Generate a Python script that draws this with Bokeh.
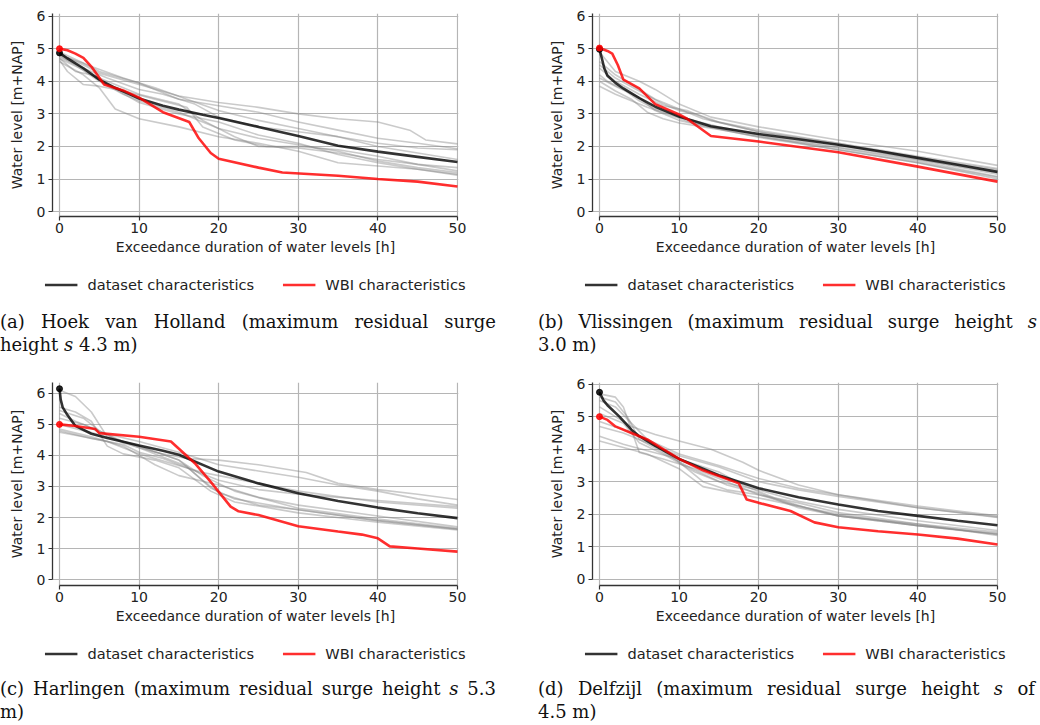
from bokeh.plotting import figure
from bokeh.layouts import column, row
from bokeh.models import Div, Legend, LegendItem, FixedTicker, Range1d
from bokeh.embed import file_html
from bokeh.resources import INLINE

X_TICKS = [0, 10, 20, 30, 40, 50]
Y_TICKS = [0, 1, 2, 3, 4, 5, 6]
X_LABEL = "Exceedance duration of water levels [h]"
Y_LABEL = "Water level [m+NAP]"
LEGEND_LABELS = ["dataset characteristics", "WBI characteristics"]

# ---------------- (a) Hoek van Holland ----------------
hvh_runs_x = [
    [0, 3, 5, 10, 15, 20, 25, 30, 35, 40, 44, 46, 50],
    [0, 3, 5, 10, 15, 20, 25, 30, 35, 40, 45, 50],
    [0, 3, 6, 10, 13, 17, 20, 25, 30, 35, 40, 45, 50],
    [0, 2, 4, 7, 10, 15, 18, 22, 25, 30, 35, 40, 45, 50],
    [0, 1, 3, 5, 8, 12, 16, 18, 22, 26, 30, 35, 40, 45, 50],
    [0, 3, 5, 7, 10, 15, 20, 25, 30, 35, 40, 45, 50],
    [0, 2, 5, 8, 10, 15, 20, 25, 30, 35, 40, 45, 50],
    [0, 3, 6, 10, 15, 20, 25, 30, 35, 40, 45, 50],
    [0, 4, 8, 12, 16, 20, 25, 30, 35, 40, 45, 50],
]
hvh_runs_y = [
    [4.85, 4.5, 4.25, 3.9, 3.55, 3.35, 3.2, 3.0, 2.85, 2.75, 2.5, 2.2, 2.08],
    [4.8, 4.55, 4.3, 3.95, 3.45, 3.25, 3.05, 2.75, 2.5, 2.25, 2.1, 1.93],
    [4.75, 4.4, 4.1, 3.75, 3.6, 3.3, 2.9, 2.6, 2.45, 2.3, 2.0, 1.8, 1.6],
    [4.7, 4.3, 4.2, 3.9, 3.6, 3.3, 2.8, 2.3, 2.0, 1.95, 1.8, 1.6, 1.45, 1.35],
    [4.65, 4.3, 3.9, 3.85, 3.7, 3.45, 3.2, 2.6, 2.2, 2.0, 2.0, 1.9, 1.7, 1.45, 1.25],
    [4.6, 4.2, 3.8, 3.15, 2.85, 2.6, 2.3, 2.1, 1.85, 1.5, 1.4, 1.3, 1.15],
    [4.8, 4.5, 4.0, 3.6, 3.4, 3.05, 2.55, 2.25, 2.05, 1.85, 1.55, 1.35, 1.2],
    [4.7, 4.35, 3.9, 3.35, 3.0, 2.75, 2.35, 2.1, 1.75, 1.5, 1.3, 1.12],
    [4.9, 4.45, 4.1, 3.8, 3.45, 3.1, 2.8, 2.55, 2.3, 2.1, 1.95, 1.9],
]
hvh_dataset_x = [0, 1, 3, 5, 7, 10, 13, 15, 18, 20, 25, 30, 35, 40, 45, 50]
hvh_dataset_y = [4.87, 4.7, 4.4, 4.05, 3.8, 3.47, 3.25, 3.13, 2.97, 2.87, 2.6, 2.32, 2.02, 1.84, 1.68, 1.52]
hvh_wbi_x = [0, 1, 2, 3, 4, 5.6, 8, 10, 13, 16.3, 17.5, 19, 20, 25, 28, 35, 40, 45, 50]
hvh_wbi_y = [5.0, 4.95, 4.85, 4.72, 4.45, 3.9, 3.72, 3.5, 3.05, 2.75, 2.25, 1.8, 1.62, 1.35, 1.2, 1.1, 1.0, 0.92, 0.77]

# ---------------- (b) Vlissingen ----------------
vli_runs_x = [
    [0, 2, 5, 7, 10, 14, 20, 30, 40, 50],
    [0, 2, 5, 8, 10, 12, 15, 20, 30, 40, 50],
    [0, 1, 3, 5, 7, 10, 15, 20, 30, 40, 50],
    [0, 2, 4, 6, 8, 10, 15, 20, 30, 40, 50],
    [0, 2, 4, 6, 9, 12, 16, 20, 30, 40, 50],
    [0, 2, 5, 8, 11, 14, 20, 30, 40, 50],
    [0, 2, 5, 7, 10, 14, 20, 30, 40, 50],
    [0, 2, 4, 7, 10, 13, 20, 30, 40, 50],
]
vli_runs_y = [
    [4.9, 4.3, 4.0, 3.75, 3.3, 2.9, 2.6, 2.2, 1.85, 1.42],
    [4.5, 4.1, 3.7, 3.3, 3.1, 3.0, 2.75, 2.5, 2.1, 1.65, 1.28],
    [4.2, 4.0, 3.75, 3.4, 3.15, 2.9, 2.6, 2.35, 1.98, 1.6, 1.15],
    [4.0, 3.7, 3.45, 3.05, 2.85, 2.72, 2.52, 2.3, 1.95, 1.55, 1.08],
    [3.85, 3.6, 3.4, 3.2, 2.95, 2.7, 2.5, 2.32, 1.9, 1.5, 1.05],
    [4.4, 4.0, 3.6, 3.25, 3.1, 2.8, 2.45, 2.05, 1.6, 1.2],
    [4.1, 3.85, 3.5, 3.1, 2.8, 2.58, 2.28, 1.9, 1.5, 1.0],
    [4.6, 4.2, 3.9, 3.45, 3.15, 2.85, 2.45, 2.1, 1.7, 1.32],
]
vli_dataset_x = [0, 0.3, 0.6, 1, 2, 3, 5, 7, 10, 14, 20, 25, 30, 35, 40, 45, 50]
vli_dataset_y = [4.98, 4.7, 4.4, 4.17, 3.95, 3.78, 3.48, 3.22, 2.92, 2.62, 2.38, 2.22, 2.05, 1.86, 1.65, 1.44, 1.22]
vli_wbi_x = [0, 1, 1.6, 2.3, 3, 5, 7, 10, 11, 14, 20, 30, 40, 50]
vli_wbi_y = [5.02, 4.93, 4.85, 4.5, 4.05, 3.78, 3.3, 2.98, 2.85, 2.32, 2.15, 1.82, 1.38, 0.92]

# ---------------- (c) Harlingen ----------------
har_runs_x = [
    [0, 2, 4, 6, 10, 15, 18, 20, 25, 30, 40, 50],
    [0, 2, 4, 6, 8, 12, 15, 19, 22, 30, 40, 50],
    [0, 3, 5, 8, 12, 16, 20, 25, 31, 35, 40, 45, 50],
    [0, 3, 5, 10, 15, 20, 25, 30, 35, 40, 45, 50],
    [0, 3, 6, 10, 15, 18, 22, 30, 40, 50],
    [0, 4, 8, 12, 15, 20, 25, 30, 40, 50],
    [0, 4, 8, 10, 13, 16, 20, 25, 30, 40, 50],
    [0, 3, 6, 10, 14, 18, 20, 25, 30, 40, 50],
    [0, 2, 4, 8, 12, 16, 19, 22, 30, 40, 50],
]
har_runs_y = [
    [6.1, 5.9, 5.4, 4.6, 4.3, 3.85, 3.2, 2.8, 2.4, 2.25, 1.9, 1.62],
    [5.55, 5.4, 5.1, 4.3, 4.05, 3.85, 3.6, 2.85, 2.5, 2.15, 1.85, 1.6],
    [5.45, 5.2, 4.8, 4.4, 4.1, 3.9, 3.85, 3.7, 3.45, 3.1, 2.9, 2.75, 2.58],
    [5.2, 5.0, 4.75, 4.45, 4.1, 3.7, 3.5, 3.3, 3.05, 2.85, 2.6, 2.4],
    [5.0, 4.8, 4.6, 4.3, 3.85, 3.35, 2.85, 2.3, 1.95, 1.65],
    [4.85, 4.6, 4.3, 3.7, 3.35, 3.05, 2.65, 2.4, 2.05, 1.7],
    [4.8, 4.55, 4.35, 4.1, 3.9, 3.6, 3.2, 2.9, 2.75, 2.55, 2.35],
    [4.75, 4.6, 4.45, 4.05, 3.75, 3.45, 3.35, 3.1, 2.85, 2.5, 2.3],
    [5.35, 5.1, 4.9, 4.45, 4.05, 3.65, 2.95, 2.6, 2.25, 1.9, 1.63],
]
har_dataset_x = [0, 0.15, 0.4, 1, 2, 4, 6, 10, 13, 15, 20, 25, 30, 35, 40, 45, 50]
har_dataset_y = [6.15, 5.8, 5.55, 5.3, 4.95, 4.7, 4.56, 4.32, 4.15, 4.02, 3.48, 3.1, 2.78, 2.53, 2.32, 2.14, 1.98]
har_wbi_x = [0, 2, 4.5, 5, 10, 14, 17, 19, 21.5, 22.5, 25, 30, 35, 38, 40, 41.5, 45, 50]
har_wbi_y = [5.0, 4.95, 4.85, 4.72, 4.6, 4.45, 3.75, 3.15, 2.35, 2.2, 2.08, 1.72, 1.55, 1.45, 1.33, 1.07, 1.0, 0.9]

# ---------------- (d) Delfzijl ----------------
del_runs_x = [
    [0, 2, 3, 4, 5, 8, 12, 15, 20, 25, 30, 40, 50],
    [0, 2, 3.5, 5, 8, 12, 16, 20, 25, 30, 40, 50],
    [0, 2, 4, 6, 10, 15, 20, 25, 30, 40, 50],
    [0, 2, 4, 7, 10, 14, 18, 20, 25, 30, 40, 50],
    [0, 3, 5, 8, 12, 15, 20, 25, 30, 40, 50],
    [0, 3, 6, 10, 13, 16, 20, 25, 30, 40, 50],
    [0, 3, 6, 10, 15, 20, 25, 30, 40, 50],
    [0, 3, 6, 10, 15, 18, 22, 26, 30, 40, 50],
    [0, 3, 6, 10, 13, 17, 20, 25, 30, 40, 50],
]
del_runs_y = [
    [5.7, 5.6, 5.3, 4.6, 3.9, 3.7, 3.4, 3.1, 2.6, 2.25, 1.95, 1.65, 1.4],
    [5.6, 5.45, 5.0, 4.3, 3.9, 3.35, 2.9, 2.65, 2.2, 1.95, 1.7, 1.45],
    [5.5, 5.3, 4.8, 4.3, 3.85, 3.5, 3.1, 2.8, 2.6, 2.25, 1.95],
    [5.3, 5.0, 4.7, 4.45, 4.25, 4.0, 3.6, 3.35, 2.9, 2.6, 2.2, 1.92],
    [5.1, 4.8, 4.2, 3.85, 3.3, 3.0, 2.75, 2.4, 2.15, 1.8, 1.5],
    [4.85, 4.6, 4.3, 3.6, 3.0, 2.75, 2.6, 2.35, 2.05, 1.7, 1.35],
    [4.7, 4.5, 4.2, 3.8, 3.45, 3.0, 2.75, 2.55, 2.2, 1.9],
    [4.4, 4.15, 3.95, 3.7, 3.3, 2.9, 2.5, 2.2, 1.95, 1.65, 1.38],
    [4.25, 4.05, 3.85, 3.4, 2.85, 2.65, 2.5, 2.25, 2.0, 1.65, 1.4],
]
del_dataset_x = [0, 0.5, 1, 2.5, 4, 5, 7, 10, 15, 20, 25, 30, 35, 40, 45, 50]
del_dataset_y = [5.75, 5.5, 5.35, 5.0, 4.6, 4.4, 4.1, 3.7, 3.2, 2.8, 2.52, 2.3, 2.1, 1.95, 1.8, 1.66]
del_wbi_x = [0, 1, 2, 4, 6, 8, 10, 13, 17.5, 18.5, 20, 24, 27, 30, 35, 40, 45, 50]
del_wbi_y = [5.0, 4.9, 4.7, 4.5, 4.3, 4.0, 3.7, 3.35, 2.95, 2.45, 2.35, 2.1, 1.75, 1.6, 1.48, 1.38, 1.25, 1.07]

CAPTIONS = [
    ("(a) Hoek van Holland (maximum residual surge", "height <i>s</i> 4.3 m)"),
    ("(b) Vlissingen (maximum residual surge height <i>s</i>", "3.0 m)"),
    ("(c) Harlingen (maximum residual surge height <i>s</i> 5.3", "m)"),
    ("(d) Delfzijl (maximum residual surge height <i>s</i> of", "4.5 m)"),
]

SANS = "DejaVu Sans"
DS_STYLE = dict(line_color="black", line_alpha=0.8, line_width=2.6)
WBI_STYLE = dict(line_color="red", line_alpha=0.82, line_width=2.6)


def make_panel(runs_x, runs_y, ds_x, ds_y, wbi_x, wbi_y, y_lo, y_hi,
               width, height, b_top, b_bottom, b_right):
    p = figure(width=width, height=height, output_backend="svg", toolbar_location=None,
               x_range=Range1d(-0.88, 50.13), y_range=Range1d(y_lo, y_hi),
               min_border_left=52, min_border_right=b_right,
               min_border_top=b_top, min_border_bottom=b_bottom)
    p.outline_line_color = None
    p.background_fill_color = "white"
    p.border_fill_color = "white"

    p.multi_line(runs_x, runs_y, line_color="gray", line_alpha=0.42, line_width=1.6)
    p.line(ds_x, ds_y, **DS_STYLE)
    p.line(wbi_x, wbi_y, **WBI_STYLE)
    p.scatter(ds_x[:1], ds_y[:1], size=6, color="black", alpha=0.85)
    p.scatter(wbi_x[:1], wbi_y[:1], size=6, color="red", alpha=0.85)

    p.xaxis.ticker = FixedTicker(ticks=X_TICKS)
    p.yaxis.ticker = FixedTicker(ticks=Y_TICKS)
    p.xaxis.bounds = (0, 50)
    p.yaxis.bounds = (0, y_hi)
    p.xaxis.axis_label = X_LABEL
    p.yaxis.axis_label = Y_LABEL
    for ax in p.axis:
        ax.axis_line_color = "#333333"
        ax.axis_line_width = 1.3
        ax.major_tick_line_color = "#333333"
        ax.major_tick_line_width = 1.2
        ax.major_tick_out = 4
        ax.major_tick_in = 0
        ax.minor_tick_out = 0
        ax.minor_tick_in = 0
        ax.major_label_text_font = SANS
        ax.major_label_text_font_size = "14px"
        ax.major_label_text_color = "#222222"
        ax.axis_label_text_font = SANS
        ax.axis_label_text_font_size = "14px"
        ax.axis_label_text_font_style = "normal"
        ax.axis_label_text_color = "#222222"
    p.xaxis.major_label_standoff = 2
    p.xaxis.axis_label_standoff = 3
    p.yaxis.major_label_standoff = 3
    p.yaxis.axis_label_standoff = 9

    p.grid.grid_line_color = "#b5b5b5"
    p.grid.grid_line_width = 1.2
    return p


def make_legend(ds_x, ds_y, wbi_x, wbi_y, width, b_left, b_right, height=44):
    # legend strip: the series are drawn but lie outside this strip's view,
    # only the legend entries are visible
    p = figure(width=width, height=height, output_backend="svg", toolbar_location=None,
               x_range=Range1d(1000, 1001), y_range=Range1d(1000, 1001),
               x_axis_type=None, y_axis_type=None,
               min_border_left=b_left, min_border_right=b_right,
               min_border_top=0, min_border_bottom=0)
    p.outline_line_color = None
    p.grid.visible = False
    r_ds = p.line(ds_x, ds_y, **DS_STYLE)
    r_wbi = p.line(wbi_x, wbi_y, **WBI_STYLE)
    legend = Legend(items=[LegendItem(label=LEGEND_LABELS[0], renderers=[r_ds]),
                           LegendItem(label=LEGEND_LABELS[1], renderers=[r_wbi])],
                    orientation="horizontal", location="center",
                    border_line_color=None, background_fill_alpha=0,
                    label_text_font=SANS, label_text_font_size="14.6px",
                    label_text_color="#222222",
                    glyph_width=33, glyph_height=16, label_height=16,
                    label_standoff=10, spacing=28, padding=0, margin=0)
    p.add_layout(legend, "center")
    return p


def caption(first, second, width, inner, height, pad_top):
    words = first.split(" ")
    spans = "".join(f"<span>{w}</span>" for w in words)
    html = (f"<div style=\"font-family:'DejaVu Serif';font-size:18px;line-height:23px;"
            f"color:#111;width:{inner}px;margin:0;padding:{pad_top}px 0 0 0\">"
            f"<div style=\"display:flex;justify-content:space-between;white-space:nowrap\">{spans}</div>"
            f"<div>{second}</div></div>")
    return Div(text=html, width=width, height=height, margin=0)


pa = make_panel(hvh_runs_x, hvh_runs_y, hvh_dataset_x, hvh_dataset_y, hvh_wbi_x, hvh_wbi_y,
                -0.15, 6.08, 540, 262, 13, 46, 82)
pb = make_panel(vli_runs_x, vli_runs_y, vli_dataset_x, vli_dataset_y, vli_wbi_x, vli_wbi_y,
                -0.15, 6.08, 500, 262, 13, 46, 42)
pc = make_panel(har_runs_x, har_runs_y, har_dataset_x, har_dataset_y, har_wbi_x, har_wbi_y,
                -0.19, 6.35, 540, 261, 8, 46, 82)
pd = make_panel(del_runs_x, del_runs_y, del_dataset_x, del_dataset_y, del_wbi_x, del_wbi_y,
                -0.19, 6.05, 500, 261, 12, 46, 42)

la = make_legend(hvh_dataset_x, hvh_dataset_y, hvh_wbi_x, hvh_wbi_y, 540, 0, 30)
lb = make_legend(vli_dataset_x, vli_dataset_y, vli_wbi_x, vli_wbi_y, 500, 10, 0)
lc = make_legend(har_dataset_x, har_dataset_y, har_wbi_x, har_wbi_y, 540, 0, 30)
ld = make_legend(del_dataset_x, del_dataset_y, del_wbi_x, del_wbi_y, 500, 10, 0)

ca = caption(*CAPTIONS[0], 538, 496, 64, 4)
cb = caption(*CAPTIONS[1], 502, 499, 64, 4)
cc = caption(*CAPTIONS[2], 538, 496, 50, 2)
cd = caption(*CAPTIONS[3], 502, 497, 50, 2)

layout = column(row(pa, pb), row(la, lb), row(ca, cb),
                row(pc, pd), row(lc, ld), row(cc, cd))

open("out.html", "w").write(file_html(layout, INLINE))
